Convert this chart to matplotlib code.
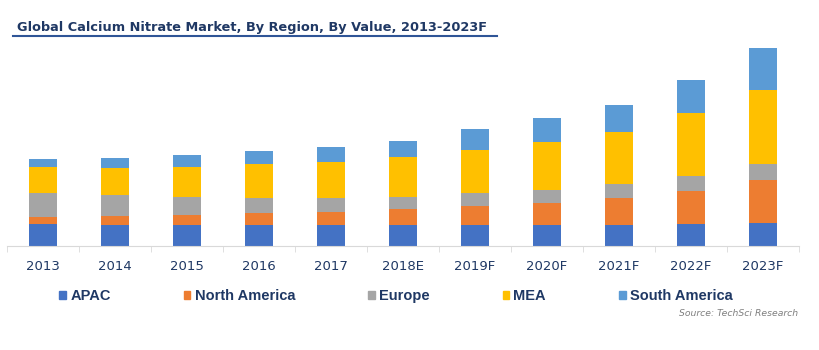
import matplotlib.pyplot as plt
import numpy as np
from matplotlib.patches import Rectangle
from matplotlib.lines import Line2D

# Data (relative units)
years = ["2013", "2014", "2015", "2016", "2017", "2018E",
         "2019F", "2020F", "2021F", "2022F", "2023F"]
regions = ["APAC", "North America", "Europe", "MEA", "South America"]
apac = [22.0, 20.7, 20.7, 20.7, 20.7, 20.7, 20.7, 20.7, 20.7, 22.3, 23.3]
north_america = [7.0, 9.3, 10.6, 12.3, 13.6, 16.0, 19.3, 22.0, 27.3, 32.3, 42.7]
europe = [23.6, 20.7, 17.7, 15.0, 13.7, 12.0, 13.3, 13.3, 13.7, 15.3, 16.3]
mea = [26.0, 27.6, 30.3, 34.0, 35.7, 40.0, 42.7, 48.0, 52.3, 63.0, 74.0]
south_america = [8.4, 9.4, 11.4, 12.7, 15.3, 16.7, 20.7, 23.7, 27.3, 33.0, 41.3]

colors = ["#4472C4", "#ED7D31", "#A5A5A5", "#FFC000", "#5B9BD5"]
navy = "#1F3864"

fig = plt.figure(figsize=(8.2, 3.5), dpi=100)
ax = fig.add_axes([7/820, 104/350, 792/820, 206/350])

x = np.arange(len(years))
bottom = np.zeros(len(years))
for vals, c in zip([apac, north_america, europe, mea, south_america], colors):
    ax.bar(x, vals, width=0.39, bottom=bottom, color=c, linewidth=0)
    bottom += np.array(vals)

ax.set_xlim(-0.5, len(years) - 0.5)
ax.set_ylim(0, 206)
for s in ["top", "right", "left"]:
    ax.spines[s].set_visible(False)
ax.spines["bottom"].set_color("#D9D9D9")
ax.set_yticks([])
ax.set_xticks(x)
ax.set_xticklabels(years, fontsize=9.5, color=navy)
ax.tick_params(axis="x", length=0, pad=10)
# category boundary ticks
ax.set_xticks(np.arange(-0.5, len(years) + 0.5, 1), minor=True)
ax.tick_params(axis="x", which="minor", length=4, color="#D9D9D9")

# title with underline
fig.text(17/820, 1 - 27/350, "Global Calcium Nitrate Market, By Region, By Value, 2013-2023F",
         fontsize=9.3, fontweight="bold", color=navy, va="center")
fig.add_artist(Line2D([13/820, 497/820], [1 - 36/350, 1 - 36/350],
                      color="#2F5597", lw=1.5))

handles = [Rectangle((0, 0), 1, 1, color=c) for c in colors]
fig.legend(handles, regions, loc="center", ncol=5,
           bbox_to_anchor=(396/820, 1 - 296/350), frameon=False,
           prop={"family": "Liberation Sans", "weight": "bold", "size": 10.5},
           labelcolor=navy, handlelength=0.45, handleheight=0.45,
           handletextpad=0.3, columnspacing=5.0)

fig.text(798/820, 1 - 314/350, "Source: TechSci Research", ha="right", va="center",
         fontsize=6.7, style="italic", color="#7F7F7F")

plt.savefig("out.png", dpi=100)
